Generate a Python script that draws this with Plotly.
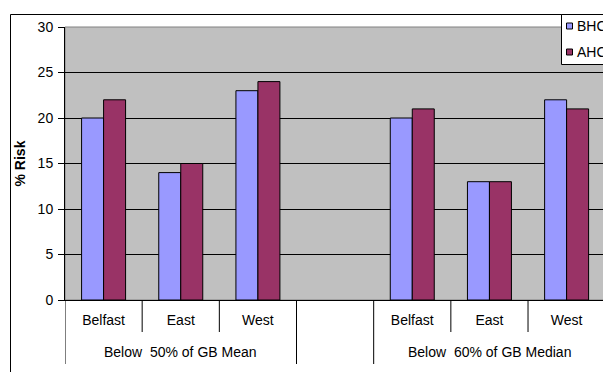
import plotly.graph_objects as go

# Poverty risk by region under two low-income thresholds
regions = ["Belfast", "East", "West", "", "Belfast", "East", "West"]
groups = ["Below  50% of GB Mean", "Below  60% of GB Median"]
group_centers = [1, 5]
series_names = ["BHC", "AHC"]
bhc = [20, 14, 23, None, 20, 13, 22]
ahc = [22, 15, 24, None, 21, 13, 21]
colors = ["#9999FF", "#993366"]

W, H = 603, 372
L, T, B = 65, 27, 72
plot_w = W - L
plot_h = H - T - B
slot_px = 77.17

pos = list(range(len(regions)))
x_max = -0.5 + plot_w / slot_px

FONT = "Liberation Sans, Arial, sans-serif"
FS = 14

fig = go.Figure()
for name, vals, col in zip(series_names, [bhc, ahc], colors):
    fig.add_trace(go.Bar(
        x=pos, y=vals, name=name,
        marker=dict(color=col, line=dict(color="black", width=1)),
        showlegend=False,
    ))


def px_x(px):
    return (px - L) / plot_w


def px_y(py):
    return (H - B - py) / plot_h


shapes = []
# plot area border
shapes.append(dict(type="rect", xref="paper", yref="paper", x0=0, x1=1.05, y0=0, y1=1,
                   line=dict(color="#808080", width=1), layer="below"))
# outer chart border (left and top edges)
shapes.append(dict(type="line", xref="paper", yref="paper", x0=px_x(10.5), x1=px_x(10.5),
                   y0=px_y(14.5), y1=px_y(380), line=dict(color="black", width=1)))
shapes.append(dict(type="line", xref="paper", yref="paper", x0=px_x(10.5), x1=px_x(620),
                   y0=px_y(14.5), y1=px_y(14.5), line=dict(color="black", width=1)))

# category dividers below the axis
long_div = [-0.5, 2.5, 3.5, 6.5]
short_div = [0.5, 1.5, 4.5, 5.5]
for xv in long_div:
    shapes.append(dict(type="line", xref="x", yref="paper", x0=xv, x1=xv,
                       y0=0, y1=-64 / plot_h, line=dict(color="black", width=1)))
for xv in short_div:
    shapes.append(dict(type="line", xref="x", yref="paper", x0=xv, x1=xv,
                       y0=0, y1=-32 / plot_h, line=dict(color="black", width=1)))

# legend box
shapes.append(dict(type="rect", xref="paper", yref="paper", x0=px_x(561.5), x1=px_x(640),
                   y0=px_y(64.5), y1=px_y(14.5), fillcolor="white",
                   line=dict(color="black", width=1)))
legend_rows = [26, 52]
for ly, col in zip(legend_rows, colors):
    shapes.append(dict(type="rect", xref="paper", yref="paper",
                       x0=px_x(566.5), x1=px_x(572.5), y0=px_y(ly + 3), y1=px_y(ly - 3),
                       fillcolor=col, line=dict(color="black", width=1)))

annotations = []
for gx, gname in zip(group_centers, groups):
    annotations.append(dict(x=gx, y=0, xref="x", yref="paper", text=gname,
                            showarrow=False, yanchor="middle", yshift=-52,
                            font=dict(family=FONT, size=FS, color="black")))
for ly, nm in zip(legend_rows, series_names):
    annotations.append(dict(x=px_x(575), y=px_y(ly), xref="paper", yref="paper", text=nm,
                            showarrow=False, xanchor="left", yanchor="middle",
                            font=dict(family=FONT, size=FS, color="black")))

fig.update_layout(
    width=W, height=H,
    margin=dict(l=L, r=0, t=T, b=B, autoexpand=False),
    paper_bgcolor="white",
    plot_bgcolor="#C0C0C0",
    barmode="group",
    bargap=0.43,
    bargroupgap=0,
    shapes=shapes,
    annotations=annotations,
    font=dict(family=FONT, size=FS, color="black"),
    xaxis=dict(
        range=[-0.5, x_max],
        tickmode="array", tickvals=pos, ticktext=regions,
        ticks="", showgrid=False, zeroline=False,
        showline=True, linecolor="black", linewidth=1,
        ticklabelstandoff=7,
        tickfont=dict(family=FONT, size=FS, color="black"),
    ),
    yaxis=dict(
        range=[0, 30], dtick=5,
        showgrid=True, gridcolor="black", gridwidth=1,
        zeroline=False,
        showline=True, linecolor="black", linewidth=1,
        ticks="outside", ticklen=6, tickcolor="black",
        ticklabelstandoff=2,
        tickfont=dict(family=FONT, size=FS, color="black"),
        title=dict(text="<b>% Risk</b>", standoff=8,
                   font=dict(family=FONT, size=FS, color="black")),
    ),
)

fig.write_html("out.html")
